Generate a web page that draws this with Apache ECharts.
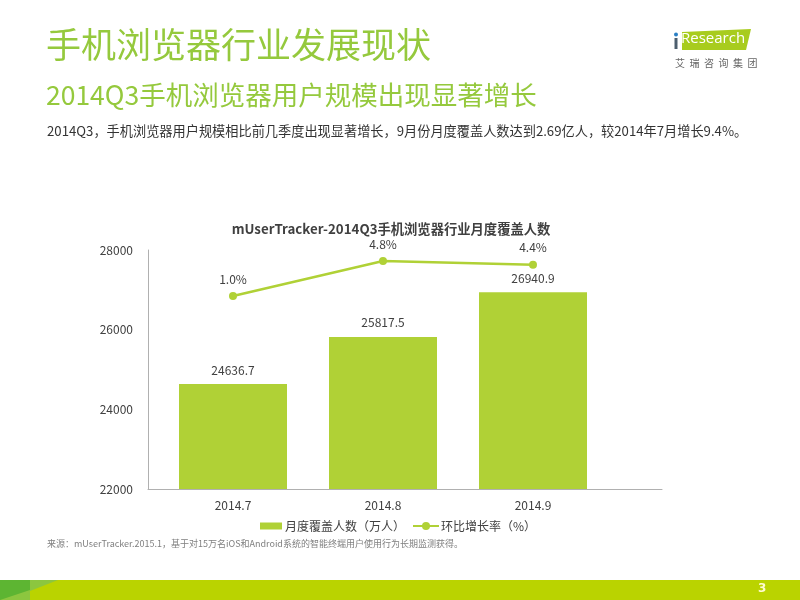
<!DOCTYPE html>
<html>
<head>
<meta charset="utf-8">
<script src="https://cdn.jsdelivr.net/npm/echarts@6/dist/echarts.min.js"></script>
<style>html,body{margin:0;padding:0;background:#fff;}#c{width:800px;height:600px;}</style>
</head>
<body>
<div id="c"></div>
<script>
const categories = ['2014.7', '2014.8', '2014.9'];
const coverage = [24636.7, 25817.5, 26940.9];
const growthRate = [1.0, 4.8, 4.4];
const yTicks = [22000, 24000, 26000, 28000];
const seriesNames = ['月度覆盖人数（万人）', '环比增长率（%）'];

const FONT = '"Noto Sans CJK SC","Noto Sans",sans-serif';
const GREEN = '#b0d136';
const HEAD = '#95c93d';

const chart = echarts.init(document.getElementById('c'));
chart.setOption({
  backgroundColor: '#ffffff',
  animation: false,
  textStyle: { fontFamily: FONT },
  title: {
    text: 'mUserTracker-2014Q3手机浏览器行业月度覆盖人数',
    left: 386, top: 217, textAlign: 'center',
    textStyle: { fontSize: 13.3, fontWeight: 'bold', color: '#404040', fontFamily: FONT }
  },
  legend: [
    { data: [seriesNames[0]], left: 255, top: 515, itemWidth: 22, itemHeight: 7,
      textStyle: { fontSize: 12, color: '#404040', padding: [0, 0, 0, -2] }, icon: 'rect' },
    { data: [seriesNames[1]], left: 407, top: 515, itemWidth: 26, itemHeight: 10,
      textStyle: { fontSize: 12, color: '#404040', padding: [0, 0, 0, -3] } }
  ],
  grid: [
    { left: 158, width: 450, top: 250, height: 239 },
    { left: 148, width: 514, top: 250, height: 239 }
  ],
  xAxis: [
    { type: 'category', gridIndex: 0, data: categories, boundaryGap: true,
      axisLine: { show: false }, axisTick: { show: false },
      axisLabel: { color: '#404040', fontSize: 12, margin: 10 } },
    { type: 'value', gridIndex: 1, min: 0, max: 1, show: true,
      axisLine: { show: true, lineStyle: { color: '#b0b0b0', width: 1 } },
      axisTick: { show: false }, axisLabel: { show: false }, splitLine: { show: false } }
  ],
  yAxis: [
    { type: 'value', gridIndex: 0, min: 22000, max: 28000, interval: 2000, show: false },
    { type: 'value', gridIndex: 0, min: -20, max: 6, show: false },
    { type: 'value', gridIndex: 1, min: yTicks[0], max: yTicks[yTicks.length - 1], interval: 2000,
      axisLine: { show: true, lineStyle: { color: '#b0b0b0', width: 1 } },
      axisTick: { show: false }, splitLine: { show: false },
      axisLabel: { color: '#404040', fontSize: 12, margin: 15, formatter: v => String(v) } }
  ],
  series: [
    { name: seriesNames[0], type: 'bar', xAxisIndex: 0, yAxisIndex: 0, data: coverage,
      barWidth: 108, itemStyle: { color: GREEN },
      label: { show: true, position: 'top', distance: 8, color: '#404040', fontSize: 12,
        formatter: p => p.value.toFixed(1) } },
    { name: seriesNames[1], type: 'line', xAxisIndex: 0, yAxisIndex: 1, data: growthRate,
      symbol: 'circle', symbolSize: 8, itemStyle: { color: GREEN },
      lineStyle: { color: GREEN, width: 2.5 },
      label: { show: true, position: 'top', distance: 7, color: '#404040', fontSize: 12,
        formatter: p => p.value.toFixed(1) + '%' } }
  ],
  graphic: [
    { type: 'text', left: 46, top: 27, style: { text: '手机浏览器行业发展现状', fill: HEAD, font: '35px ' + FONT } },
    { type: 'text', left: 46, top: 82, style: { text: '2014Q3手机浏览器用户规模出现显著增长', fill: HEAD, font: '26.5px ' + FONT } },
    { type: 'text', left: 47, top: 124, style: { text: '2014Q3，手机浏览器用户规模相比前几季度出现显著增长，9月份月度覆盖人数达到2.69亿人，较2014年7月增长9.4%。', fill: '#333333', font: '13.2px ' + FONT } },
    { type: 'text', left: 47, top: 539, style: { text: '来源：mUserTracker.2015.1，基于对15万名iOS和Android系统的智能终端用户使用行为长期监测获得。', fill: '#7f7f7f', font: '9px ' + FONT } },
    // logo
    { type: 'polygon', shape: { points: [[682, 32], [751, 29], [746, 50], [682, 50]] }, style: { fill: '#a8cc1e' } },
    { type: 'rect', shape: { x: 674.5, y: 38, width: 3, height: 11 }, style: { fill: '#4d5e6e' } },
    { type: 'circle', shape: { cx: 676, cy: 34.5, r: 2 }, style: { fill: '#2a7fc4' } },
    { type: 'text', left: 681, top: 31, style: { text: 'Research', fill: '#ffffff', font: '15px "Open Sans",sans-serif' } },
    { type: 'text', left: 675, top: 58, style: { text: '艾  瑞  咨  询  集  团', fill: '#666666', font: '10px ' + FONT } },
    // footer
    { type: 'rect', shape: { x: 0, y: 580, width: 800, height: 20 }, style: { fill: '#bad300' } },
    { type: 'rect', shape: { x: 0, y: 580, width: 30, height: 20 }, style: { fill: '#5db532' } },
    { type: 'polygon', shape: { points: [[30, 580], [58, 580], [30, 591]] }, style: { fill: '#8cc63f' } },
    { type: 'polygon', shape: { points: [[0, 600], [30, 590], [30, 600]] }, style: { fill: '#8cc63f' } },
    { type: 'text', left: 758, top: 583, style: { text: '3', fill: '#fffbd0', font: 'bold 12px "DejaVu Sans",sans-serif' } }
  ]
});
</script>
</body>
</html>
